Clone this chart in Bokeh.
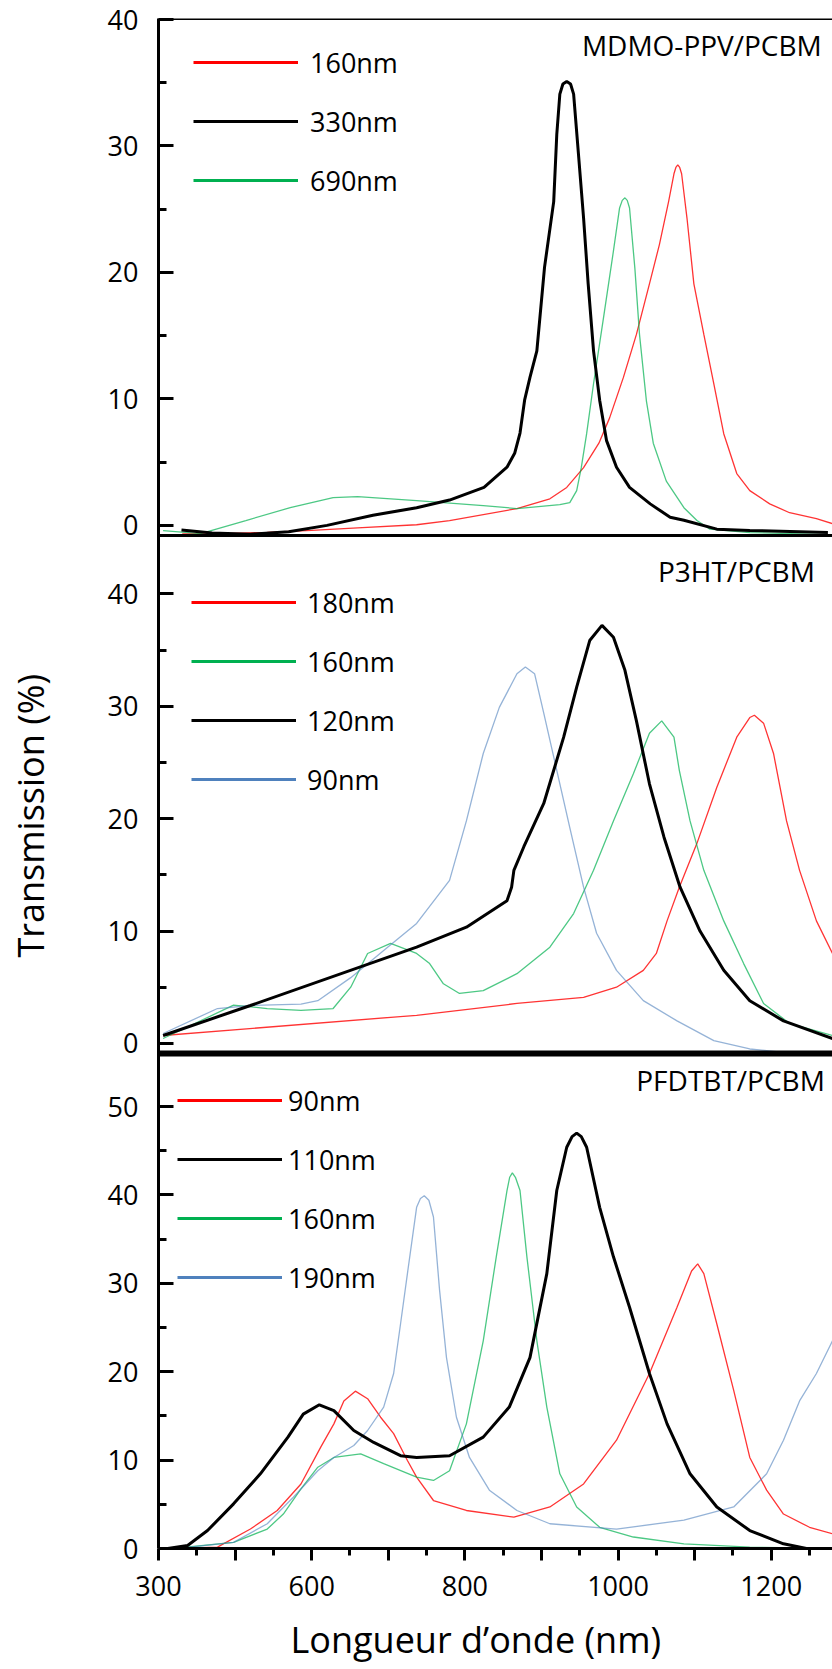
from bokeh.plotting import figure
from bokeh.models import Range1d, FixedTicker, Span, Legend, LegendItem, Label, Title, LinearAxis
from bokeh.core.properties import value
from bokeh.embed import file_html
from bokeh.resources import INLINE

FONT = "Open Sans"
RED, GREEN, BLUE, BLACK = "#FF0000", "#00B050", "#4F81BD", "#000000"

# ---------------- x axis ----------------
x_major_ticks = [400, 500, 600, 700, 800, 900, 1000, 1100, 1200]
x_labeled_ticks = [400, 600, 800, 1000, 1200]
x_tick_labels = ["300", "600", "800", "1000", "1200"]
x_minor_ticks = [450, 550, 650, 750, 850, 950, 1050, 1150, 1250]

# ---------------- panel 1 : MDMO-PPV/PCBM ----------------
p1_title = "MDMO-PPV/PCBM"
p1_labels = ["160nm", "330nm", "690nm"]
p1_yticks = [0, 10, 20, 30, 40]
p1_yminor = [5, 15, 25, 35]
p1_red_wl = [431, 480, 542, 600, 660, 737, 780, 868, 911, 933, 955, 975, 989, 1007, 1024, 1041,
             1054, 1066, 1073, 1075.5, 1078, 1080.5, 1083, 1090, 1099, 1112, 1125, 1138, 1155, 1172,
             1198, 1224, 1259, 1280]
p1_red_T = [-0.67, -0.65, -0.55, -0.4, -0.2, 0.05, 0.38, 1.33, 2.1, 3.0, 4.56, 6.5, 8.5, 11.7, 15.1,
            19.1, 22.2, 25.6, 27.8, 28.3, 28.5, 28.3, 27.8, 24.3, 19.1, 15.1, 11.2, 7.25, 4.1, 2.75,
            1.7, 1.0, 0.54, 0.14]
p1_black_wl = [430, 470, 520, 570, 620, 680, 737, 780, 825, 855, 865, 872, 878, 885, 894, 904, 916, 920,
               924, 928, 933, 938, 942, 948, 955, 961, 968, 976, 985, 998, 1015, 1042, 1068, 1086, 1129,
               1172, 1274]
p1_black_T = [-0.36, -0.6, -0.7, -0.5, 0.0, 0.8, 1.4, 2.0, 3.0, 4.6, 5.7, 7.3, 9.9, 11.7, 13.8, 20.4,
              25.6, 30.9, 34.1, 34.9, 35.1, 34.9, 34.1, 29.6, 24.3, 19.1, 13.8, 9.9, 6.7, 4.6, 3.0, 1.7,
              0.64, 0.4, -0.3, -0.4, -0.57]
p1_green_wl = [406, 455, 514, 572, 628, 660, 737, 824, 868, 924, 937, 946, 952, 959, 968, 981, 994, 1002,
               1005.5, 1009, 1012, 1015, 1022, 1028, 1037, 1046, 1063, 1086, 1103, 1120, 1172, 1276]
p1_green_T = [-0.41, -0.65, 0.38, 1.4, 2.2, 2.27, 1.96, 1.56, 1.33, 1.64, 1.8, 2.75, 4.56, 7.25, 11.2,
              16.4, 21.7, 25.1, 25.7, 25.9, 25.7, 25.1, 20.3, 15.1, 9.85, 6.5, 3.5, 1.4, 0.38, -0.3,
              -0.57, -0.73]

# ---------------- panel 2 : P3HT/PCBM ----------------
p2_title = "P3HT/PCBM"
p2_labels = ["180nm", "160nm", "120nm", "90nm"]
p2_yticks = [0, 10, 20, 30, 40]
p2_yminor = [5, 15, 25, 35]
p2_red_wl = [406, 737, 868, 955, 998, 1033, 1050, 1064, 1080, 1103, 1129, 1155, 1172, 1178, 1190, 1203,
             1220, 1237, 1259, 1280]
p2_red_T = [0.7, 2.5, 3.55, 4.1, 5.0, 6.5, 8.0, 10.9, 13.9, 17.8, 22.8, 27.25, 29.0, 29.2, 28.5, 25.8,
            19.8, 15.4, 10.9, 8.0]
p2_green_wl = [406, 498, 542, 586, 628, 651, 673, 703, 737, 754, 772, 793, 824, 868, 911, 942, 968, 994,
               1020, 1041, 1057, 1073, 1080, 1094, 1112, 1138, 1164, 1190, 1224, 1280]
p2_green_T = [0.43, 3.4, 3.1, 2.93, 3.1, 5.0, 8.0, 8.9, 8.0, 7.1, 5.3, 4.44, 4.7, 6.2, 8.56, 11.55, 15.4,
              19.8, 24.0, 27.6, 28.7, 27.25, 24.3, 19.8, 15.4, 10.9, 7.1, 3.55, 1.77, 0.7]
p2_black_wl = [406, 520, 737, 802, 855, 861, 864, 877, 903, 929, 946, 963, 979, 994, 1009, 1024, 1041,
               1060, 1081, 1107, 1138, 1172, 1216, 1280]
p2_black_T = [0.7, 3.37, 8.56, 10.34, 12.7, 13.9, 15.4, 17.5, 21.35, 27.25, 31.7, 35.85, 37.2, 36.15, 33.2,
              28.7, 23.1, 18.35, 13.9, 10.0, 6.5, 3.8, 2.0, 0.43]
p2_blue_wl = [406, 477, 520, 586, 608, 651, 694, 737, 780, 802, 824, 845, 868, 879, 891, 903, 920, 937,
              955, 972, 998, 1033, 1077, 1125, 1172, 1216, 1280]
p2_blue_T = [0.88, 3.1, 3.37, 3.5, 3.8, 5.85, 8.26, 10.67, 14.5, 19.8, 25.8, 29.9, 32.9, 33.5, 32.9, 29.4,
             24.3, 19.2, 13.9, 9.8, 6.5, 3.8, 2.0, 0.25, -0.5, -0.8, -0.8]

# ---------------- panel 3 : PFDTBT/PCBM ----------------
p3_title = "PFDTBT/PCBM"
p3_labels = ["90nm", "110nm", "160nm", "190nm"]
p3_yticks = [0, 10, 20, 30, 40, 50]
p3_yminor = [5, 15, 25, 35, 45]
p3_red_wl = [425, 477, 520, 555, 586, 612, 629, 642, 657, 673, 690, 707, 725, 737, 759, 802, 864, 911,
             955, 998, 1041, 1077, 1096, 1104, 1112, 1129, 1151, 1172, 1194, 1216, 1250, 1280]
p3_red_T = [0.0, 0.15, 2.2, 4.3, 7.3, 11.5, 14.1, 16.7, 17.8, 16.95, 14.85, 13.0, 9.95, 8.07, 5.43, 4.3,
            3.54, 4.7, 7.3, 12.25, 19.8, 27.3, 31.4, 32.2, 31.1, 25.4, 17.9, 10.3, 6.6, 3.9, 2.4, 1.66]
p3_black_wl = [412, 438, 464, 498, 533, 569, 589, 610, 629, 655, 681, 716, 737, 780, 824, 858, 885, 907,
               920, 933, 940, 946, 952, 959, 976, 994, 1015, 1041, 1064, 1094, 1129, 1172, 1216, 1246, 1280]
p3_black_T = [0.0, 0.34, 2.03, 5.05, 8.45, 12.6, 15.2, 16.26, 15.6, 13.35, 12.0, 10.5, 10.3, 10.5, 12.6,
              16.0, 21.6, 31.1, 40.5, 45.4, 46.6, 47.0, 46.6, 45.4, 38.6, 33.0, 27.3, 19.8, 14.1, 8.45, 4.7,
              2.03, 0.53, 0.0, -0.5]
p3_green_wl = [420, 498, 542, 563, 586, 608, 629, 664, 694, 737, 759, 780, 802, 824, 841, 855, 858.5, 862,
               866, 872, 881, 894, 907, 924, 946, 976, 1020, 1086, 1172, 1280]
p3_green_T = [0.0, 0.7, 2.2, 3.9, 6.75, 9.2, 10.3, 10.7, 9.6, 8.07, 7.7, 8.8, 14.1, 23.5, 33.0, 40.5, 42.0,
              42.5, 42.0, 40.5, 33.0, 23.5, 16.0, 8.45, 4.7, 2.4, 1.3, 0.53, 0.15, 0.0]
p3_blue_wl = [425, 498, 542, 576, 608, 629, 655, 673, 694, 707, 716, 725, 737, 742, 747, 753, 759, 767, 776,
              789, 806, 832, 868, 911, 998, 1086, 1151, 1194, 1216, 1237, 1259, 1280]
p3_blue_T = [0.0, 0.7, 2.8, 5.8, 8.8, 10.3, 11.65, 13.35, 16.0, 19.8, 25.4, 31.1, 38.6, 39.6, 39.9, 39.4,
             37.5, 29.2, 21.6, 14.85, 10.3, 6.6, 4.3, 2.8, 2.2, 3.2, 4.7, 8.45, 12.25, 16.7, 19.8, 23.5]

# ---------------- figure ----------------
FRAME_H = 1530
p = figure(width=832, height=1668, x_range=Range1d(400, 1280), y_range=Range1d(0, FRAME_H),
           output_backend="svg", toolbar_location=None, title=None,
           min_border_left=158, min_border_right=0, min_border_top=18, min_border_bottom=120)
p.outline_line_color = None
p.grid.visible = False
# one vertical scale per stacked panel, each occupying its own band of the frame
p.extra_y_ranges = {"p1": Range1d(-80.90, 40.079),
                    "p2": Range1d(-44.957, 91.213),
                    "p3": Range1d(0, 173.10)}


def to_frame(name, v):
    r = p.extra_y_ranges[name]
    return (v - r.start) / (r.end - r.start) * FRAME_H


# shared left axis carrying the ticks of the three panels
major, minor, overrides = [], [], {}
for name, ticks, mticks in (("p1", p1_yticks, p1_yminor), ("p2", p2_yticks, p2_yminor),
                            ("p3", p3_yticks, p3_yminor)):
    for t in ticks:
        pos = to_frame(name, t)
        major.append(pos)
        overrides[pos] = str(t)
    for t in mticks:
        minor.append(to_frame(name, t))
ya = p.yaxis[0]
ya.ticker = FixedTicker(ticks=major, minor_ticks=minor)
ya.major_label_overrides = overrides
ya.axis_line_width = 3
ya.axis_line_color = BLACK
ya.major_tick_line_width = 3
ya.minor_tick_line_width = 3
ya.major_tick_in = 15
ya.major_tick_out = 0
ya.minor_tick_in = 8
ya.minor_tick_out = 0
ya.major_label_standoff = 20
ya.major_label_text_font = FONT
ya.major_label_text_font_size = "27px"
ya.major_label_text_color = BLACK

xa = p.xaxis[0]
xa.ticker = FixedTicker(ticks=x_major_ticks, minor_ticks=x_minor_ticks)
xover = {t: "" for t in x_major_ticks}
for t, lab in zip(x_labeled_ticks, x_tick_labels):
    xover[t] = lab
xa.major_label_overrides = xover
xa.axis_line_width = 3
xa.axis_line_color = BLACK
xa.major_tick_line_width = 3
xa.minor_tick_line_width = 3
xa.major_tick_in = 0
xa.major_tick_out = 12
xa.minor_tick_in = 0
xa.minor_tick_out = 7
xa.major_label_standoff = 15
xa.major_label_text_font = FONT
xa.major_label_text_font_size = "27px"
xa.major_label_text_color = BLACK


def spacer(size, at):
    # blank side panel of a fixed size: one white tick, no line, no label
    return LinearAxis(ticker=FixedTicker(ticks=[at]), major_label_overrides={at: ""},
                      major_tick_out=size, major_tick_in=0, minor_tick_out=0, minor_tick_in=0,
                      axis_line_color=None, major_tick_line_color="white", major_tick_line_width=1,
                      minor_tick_line_color=None, major_label_standoff=0,
                      major_label_text_font_size="0px")


def thin(name, xs, ys, color, alpha):
    p.line(xs, ys, line_color=color, line_width=1.3, line_alpha=alpha, y_range_name=name)


def thick(name, xs, ys):
    p.line(xs, ys, line_color=BLACK, line_width=3, y_range_name=name)


def add_legend(labels, colors, left, bottom, spacing, standoff):
    items = []
    for lab, col in zip(labels, colors):
        r = p.line(x=[float("nan")], y=[float("nan")], line_color=col, line_width=3)
        items.append(LegendItem(label=value(lab), renderers=[r]))
    leg = Legend(items=items, location=(left, bottom), orientation="vertical",
                 glyph_width=105, glyph_height=40, label_height=40, label_standoff=standoff,
                 spacing=spacing, padding=0, margin=0, border_line_color=None,
                 background_fill_alpha=0, label_text_font=FONT, label_text_font_size="27px",
                 label_text_color=BLACK)
    p.add_layout(leg)


def panel_title(name, text, x, y):
    p.add_layout(Label(x=x, y=y, y_range_name=name, text=text, text_align="right",
                       text_baseline="middle", text_font=FONT, text_font_size="28px",
                       text_color=BLACK))


# panel 1
thin("p1", p1_red_wl, p1_red_T, RED, 0.8)
thin("p1", p1_green_wl, p1_green_T, GREEN, 0.7)
thick("p1", p1_black_wl, p1_black_T)
p.add_layout(Span(location=40.079, dimension="width", y_range_name="p1", line_color=BLACK, line_width=3))
p.add_layout(Span(location=-0.8, dimension="width", y_range_name="p1", line_color=BLACK, line_width=3))
add_legend(p1_labels, [RED, BLACK, GREEN], 35, 1348, 19, 12)
panel_title("p1", p1_title, 1266, 38.02)

# panel 2
thin("p2", p2_red_wl, p2_red_T, RED, 0.8)
thin("p2", p2_green_wl, p2_green_T, GREEN, 0.7)
thin("p2", p2_blue_wl, p2_blue_T, BLUE, 0.6)
thick("p2", p2_black_wl, p2_black_T)
p.add_layout(Span(location=-0.9, dimension="width", y_range_name="p2", line_color=BLACK, line_width=6))
add_legend(p2_labels, [RED, GREEN, BLACK, BLUE], 33, 749, 19, 11)
panel_title("p2", p2_title, 1257, 42.08)

# panel 3
thin("p3", p3_red_wl, p3_red_T, RED, 0.8)
thin("p3", p3_green_wl, p3_green_T, GREEN, 0.7)
thin("p3", p3_blue_wl, p3_blue_T, BLUE, 0.6)
thick("p3", p3_black_wl, p3_black_T)
add_legend(p3_labels, [RED, BLACK, GREEN, BLUE], 19, 251, 19, 6)
panel_title("p3", p3_title, 1270, 52.95)

# axis titles (a blank spacer pushes each title outward)
p.add_layout(spacer(48, 1248.0), "left")
p.add_layout(Title(text="Transmission (%)", align="left", offset=591, vertical_align="top",
                   standoff=0, text_font=FONT, text_font_size="36px", text_font_style="normal",
                   text_color=BLACK), "left")
p.add_layout(spacer(16, 1250.0), "below")
p.add_layout(Title(text="Longueur d\u2019onde (nm)", align="left", offset=132, vertical_align="top",
                   standoff=0, text_font=FONT, text_font_size="36px", text_font_style="normal",
                   text_color=BLACK), "below")

open("out.html", "w").write(file_html(p, INLINE))
